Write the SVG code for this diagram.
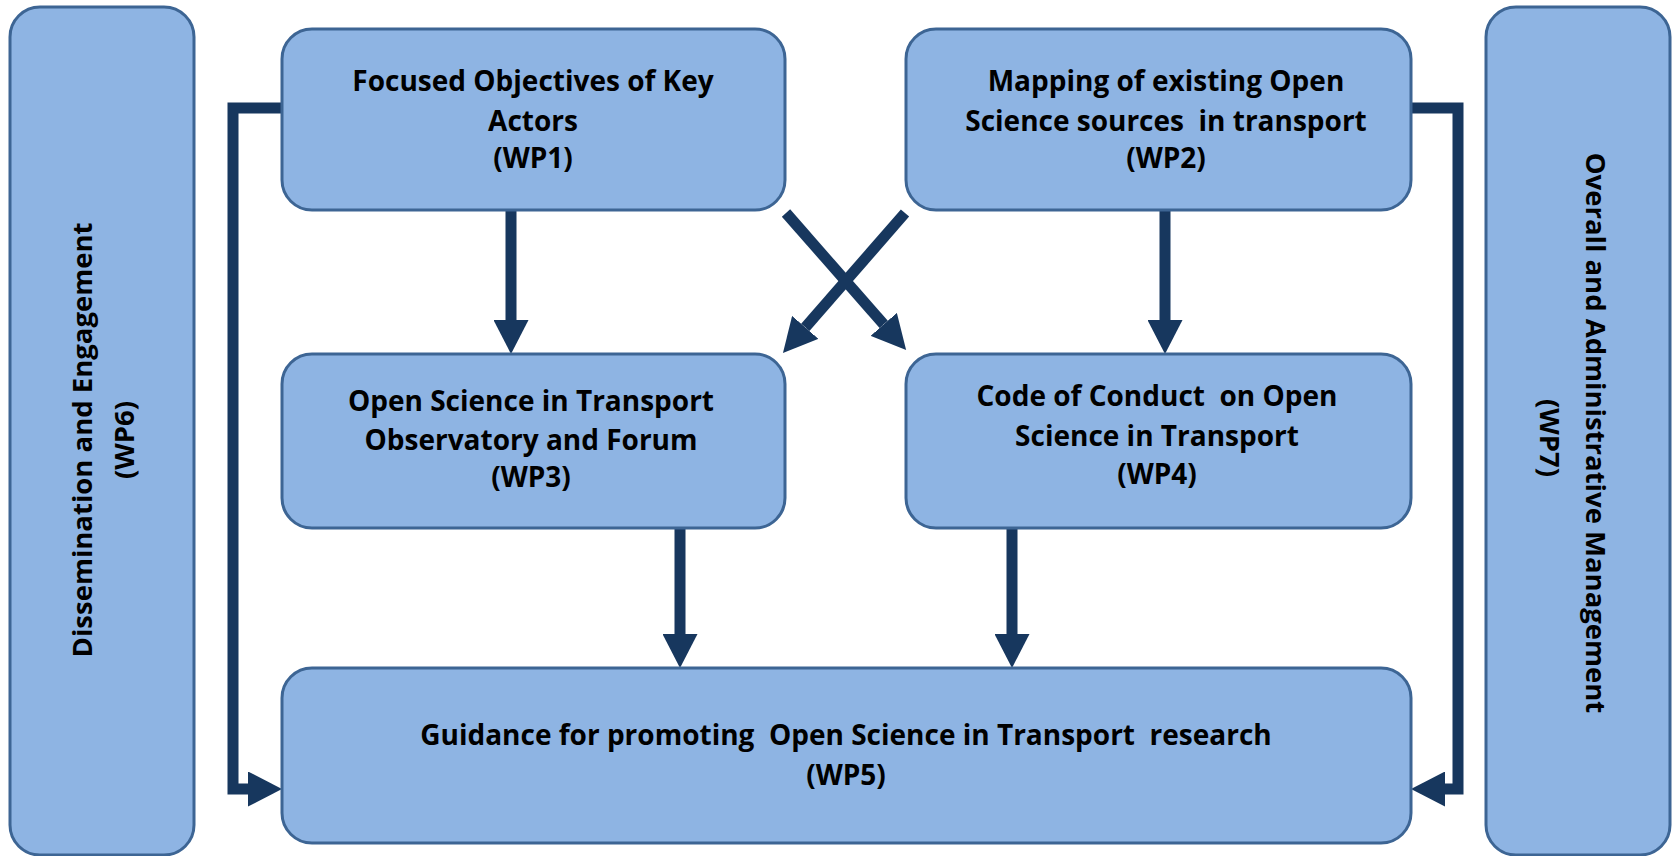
<svg xmlns="http://www.w3.org/2000/svg" width="1675" height="856" viewBox="0 0 1675 856">
  <style>
    .box { fill: #8eb4e3; stroke: #3d6594; stroke-width: 3; }
    .t { font-family: "Open Sans", Lato, "Liberation Sans", sans-serif; font-weight: bold; fill: #000; text-anchor: middle; }
    .c { font-size: 28px; }
    .s { font-size: 27.5px; }
    .con { fill: none; stroke: #17375e; stroke-width: 11; stroke-linejoin: miter; }
  </style>
  <defs>
    <marker id="ah" markerUnits="userSpaceOnUse" viewBox="0 0 34 35" refX="0" refY="17.5" markerWidth="34" markerHeight="35" orient="auto">
      <path d="M0,0 L34,17.5 L0,35 z" fill="#17375e"/>
    </marker>
  </defs>
  <rect width="1675" height="856" fill="#ffffff"/>

  <g id="connectors">
    <path class="con" d="M282,108 H233 V789 H248" marker-end="url(#ah)"/>
    <path class="con" d="M1411,108 H1458 V789 H1445" marker-end="url(#ah)"/>
    <path class="con" d="M511,210 V320" marker-end="url(#ah)"/>
    <path class="con" d="M1165,210 V320" marker-end="url(#ah)"/>
    <path class="con" d="M680,528 V634" marker-end="url(#ah)"/>
    <path class="con" d="M1012,528 V634" marker-end="url(#ah)"/>
    <path class="con" d="M786,213 L883.7,324.4" marker-end="url(#ah)"/>
    <path class="con" d="M905,213 L805.3,327.4" marker-end="url(#ah)"/>
  </g>

  <g id="wp6">
    <rect class="box" x="10" y="7" width="184" height="848" rx="30"/>
    <text class="t s" transform="translate(92,440) rotate(-90)"><tspan x="0" y="0">Dissemination and Engagement</tspan><tspan x="0" y="42">(WP6)</tspan></text>
  </g>

  <g id="wp7">
    <rect class="box" x="1486" y="7" width="184" height="848" rx="30"/>
    <text class="t s" transform="translate(1586,433) rotate(90)"><tspan x="0" y="0">Overall and Administrative Management</tspan><tspan x="5" y="46">(WP7)</tspan></text>
  </g>

  <g id="wp1">
    <rect class="box" x="282" y="29" width="503" height="181" rx="30"/>
    <text class="t c"><tspan x="533" y="91">Focused Objectives of Key</tspan><tspan x="533" y="131">Actors</tspan><tspan x="533" y="168">(WP1)</tspan></text>
  </g>

  <g id="wp2">
    <rect class="box" x="906" y="29" width="505" height="181" rx="30"/>
    <text class="t c"><tspan x="1166" y="91">Mapping of existing Open</tspan><tspan x="1166" y="131" xml:space="preserve">Science sources  in transport</tspan><tspan x="1166" y="168">(WP2)</tspan></text>
  </g>

  <g id="wp3">
    <rect class="box" x="282" y="354" width="503" height="174" rx="30"/>
    <text class="t c"><tspan x="531" y="411">Open Science in Transport</tspan><tspan x="531" y="450">Observatory and Forum</tspan><tspan x="531" y="487">(WP3)</tspan></text>
  </g>

  <g id="wp4">
    <rect class="box" x="906" y="354" width="505" height="174" rx="30"/>
    <text class="t c"><tspan x="1157" y="406" xml:space="preserve">Code of Conduct  on Open</tspan><tspan x="1157" y="446">Science in Transport</tspan><tspan x="1157" y="484">(WP4)</tspan></text>
  </g>

  <g id="wp5">
    <rect class="box" x="282" y="668" width="1129" height="175" rx="30"/>
    <text class="t c"><tspan x="846" y="745" xml:space="preserve">Guidance for promoting  Open Science in Transport  research</tspan><tspan x="846" y="785">(WP5)</tspan></text>
  </g>
</svg>
